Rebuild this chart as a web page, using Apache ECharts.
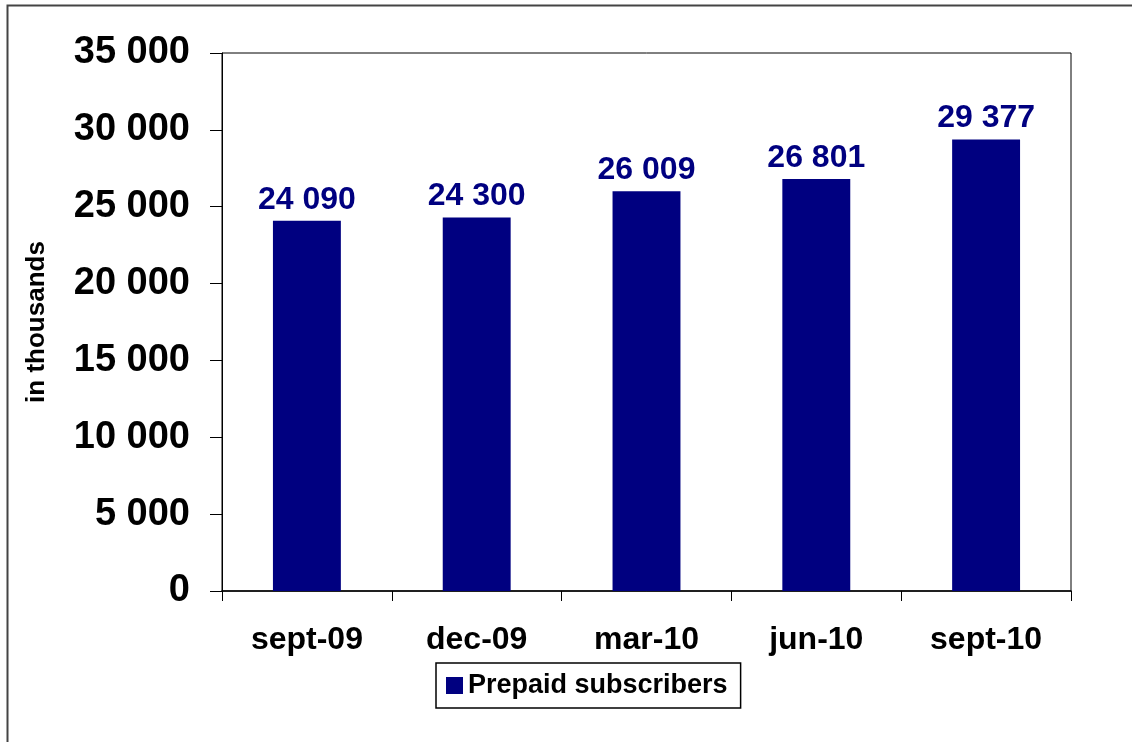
<!DOCTYPE html>
<html>
<head>
<meta charset="utf-8">
<script src="https://cdn.jsdelivr.net/npm/echarts@6/dist/echarts.min.js"></script>
<style>
  html, body { margin: 0; padding: 0; background: #fff; }
  #chart { width: 1132px; height: 742px; }
</style>
</head>
<body>
<div id="chart"></div>
<script>
var categories = ['sept-09', 'dec-09', 'mar-10', 'jun-10', 'sept-10'];
var prepaid = [24090, 24300, 26009, 26801, 29377];
var seriesName = 'Prepaid subscribers';
var yTitle = 'in thousands';

var font = 'Arial, "Liberation Sans", sans-serif';

function fmt(v) {
    return String(v).replace(/\B(?=(\d{3})+(?!\d))/g, ' ');
}

var myChart = echarts.init(document.getElementById('chart'));

var option = {
    animation: false,
    backgroundColor: '#fff',
    graphic: [{
        type: 'rect',
        shape: { x: 7.5, y: 5.5, width: 1200, height: 800 },
        style: { fill: 'none', stroke: '#444', lineWidth: 2 },
        silent: true
    }],
    grid: {
        left: 222,
        top: 53,
        right: 61,
        bottom: 151,
        show: true,
        borderColor: '#000',
        borderWidth: 1
    },
    legend: {
        data: [seriesName],
        left: 436,
        top: 663,
        orient: 'horizontal',
        icon: 'rect',
        itemWidth: 17,
        itemHeight: 17,
        itemGap: 8,
        padding: [9, 13, 9, 10],
        borderColor: '#000',
        borderWidth: 1.5,
        textStyle: {
            fontFamily: font,
            fontWeight: 'bold',
            fontSize: 27,
            color: '#000'
        }
    },
    xAxis: {
        type: 'category',
        data: categories,
        axisLine: { lineStyle: { color: '#000', width: 1.5 } },
        axisTick: { show: true, length: 10, lineStyle: { color: '#000' } },
        axisLabel: {
            margin: 33,
            fontFamily: font,
            fontWeight: 'bold',
            fontSize: 32,
            color: '#000'
        }
    },
    yAxis: {
        type: 'value',
        min: 0,
        max: 35000,
        interval: 5000,
        name: yTitle,
        nameLocation: 'middle',
        nameRotate: 90,
        nameGap: 172,
        nameTextStyle: {
            fontFamily: font,
            fontWeight: 'bold',
            fontSize: 26,
            color: '#000'
        },
        axisLine: { show: true, lineStyle: { color: '#000', width: 1 } },
        axisTick: { show: true, inside: false, length: 12, lineStyle: { color: '#000' } },
        splitLine: { show: false },
        axisLabel: {
            margin: 32,
            fontFamily: font,
            fontWeight: 'bold',
            fontSize: 38,
            color: '#000',
            formatter: function (v) { return fmt(v); }
        }
    },
    series: [{
        name: seriesName,
        type: 'bar',
        data: prepaid,
        barWidth: '40%',
        itemStyle: { color: '#000080' },
        label: {
            show: true,
            position: 'top',
            distance: 5,
            fontFamily: font,
            fontWeight: 'bold',
            fontSize: 32,
            color: '#000080',
            formatter: function (p) { return fmt(p.value); }
        }
    }]
};

myChart.setOption(option);
</script>
</body>
</html>
